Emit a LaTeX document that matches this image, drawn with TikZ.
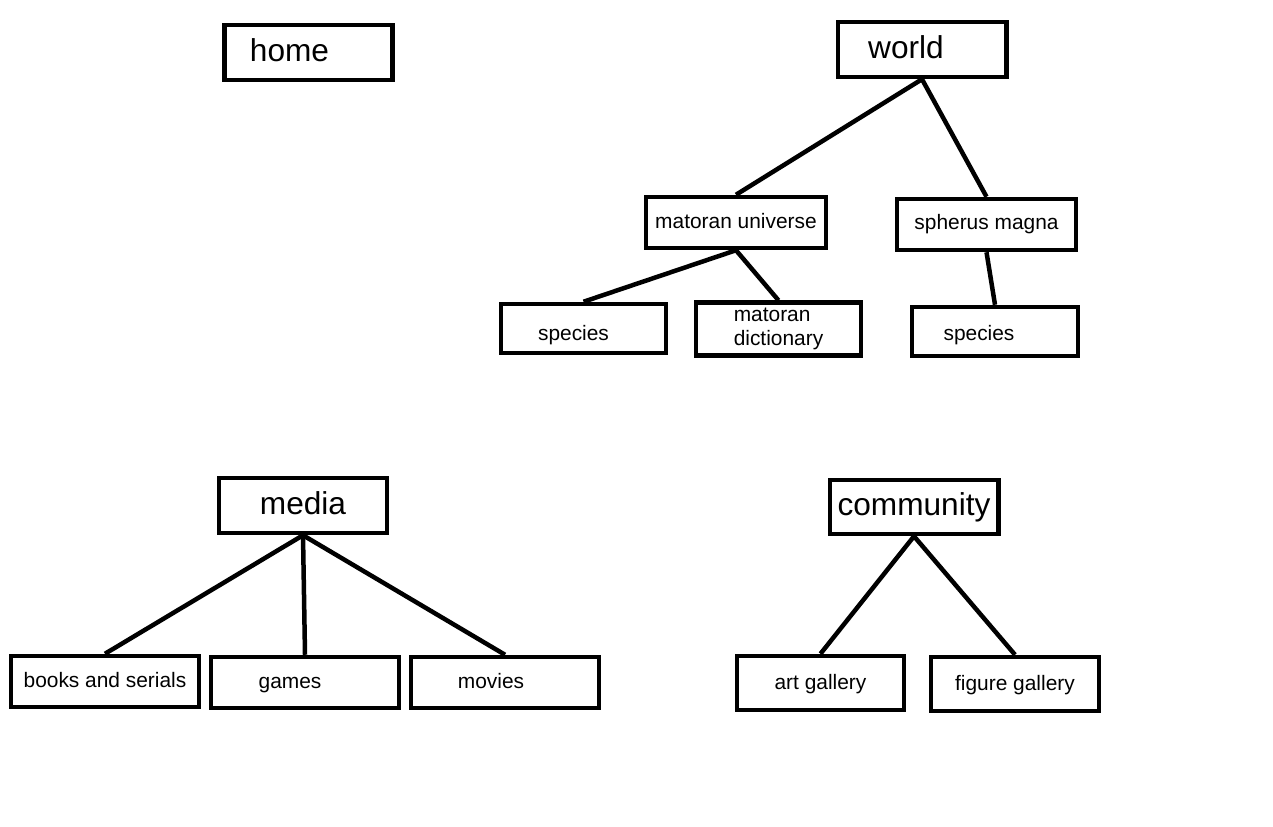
\documentclass[tikz,border=0pt]{standalone}
\usepackage{fontspec}
\setmainfont{Liberation Sans}
\begin{document}
\begin{tikzpicture}[x=0.02cm,y=-0.02cm]
\tikzstyle{topic}=[draw, rectangle, line width=0.09cm, minimum width=3.37cm, minimum height=1.1cm, font=\fontsize{18}{21}\selectfont, text height=13.5pt, text depth=3.3pt, text centered]
\tikzstyle{page}=[draw, rectangle, line width=0.09cm, minimum width=3.3cm, minimum height=0.98cm, font=\fontsize{11.9}{13.2}\selectfont, text height=9.6pt, text depth=2.4pt]
\tikzstyle{twoline}=[text height=, text depth=, align=left]
\tikzstyle{shove}=[execute at end node={\hspace*{#1}}]
\tikzstyle{link}=[draw, line width=0.09cm]

\useasboundingbox (0,0) rectangle (1273,827);

% Top level sections
\node[topic, shove=0.76cm] (home) at (308.5,52.5) {home};
\node[topic, shove=0.64cm] (world) at (922,49.5) {world};
\node[topic] (media) at (303,505.5) {media};
\node[topic, minimum height=1.08cm] (community) at (914,507) {community};

% World pages
\node[page, minimum width=3.6cm, minimum height=1.02cm] (matoran) at (736,222.5) {matoran universe};
\node[page, minimum width=3.58cm, minimum height=1.02cm, text height=8pt] (spherus) at (986.5,224.5) {spherus magna};
\node[page, shove=0.4cm, text height=15.6pt] (species1) at (583.5,328.5) {species};
\node[page, twoline] (dictionary) at (778.5,329) {matoran\\dictionary};
\node[page, minimum width=3.32cm, shove=0.64cm, text height=13pt] (species2) at (995,331.5) {species};

% Media pages
\node[page, minimum width=3.76cm, minimum height=1.02cm] (books) at (105,681.5) {books and serials};
\node[page, minimum width=3.76cm, minimum height=1.02cm, shove=0.6cm] (games) at (305,682.5) {games};
\node[page, minimum width=3.76cm, minimum height=1.02cm, shove=0.56cm] (movies) at (505,682.5) {movies};

% Community pages
\node[page, minimum width=3.34cm, minimum height=1.08cm] (art) at (820.5,683) {art gallery};
\node[page, minimum width=3.36cm, minimum height=1.08cm] (figure) at (1015,684) {figure gallery};

% Tree links
\draw[link] (world.south) -- (matoran.north);
\draw[link] (world.south) -- (spherus.north);
\draw[link] (matoran.south) -- (species1.north);
\draw[link] (matoran.south) -- (dictionary.north);
\draw[link] (spherus.south) -- (species2.north);
\draw[link] (media.south) -- (books.north);
\draw[link] (media.south) -- (games.north);
\draw[link] (media.south) -- (movies.north);
\draw[link] (community.south) -- (art.north);
\draw[link] (community.south) -- (figure.north);
\end{tikzpicture}
\end{document}
